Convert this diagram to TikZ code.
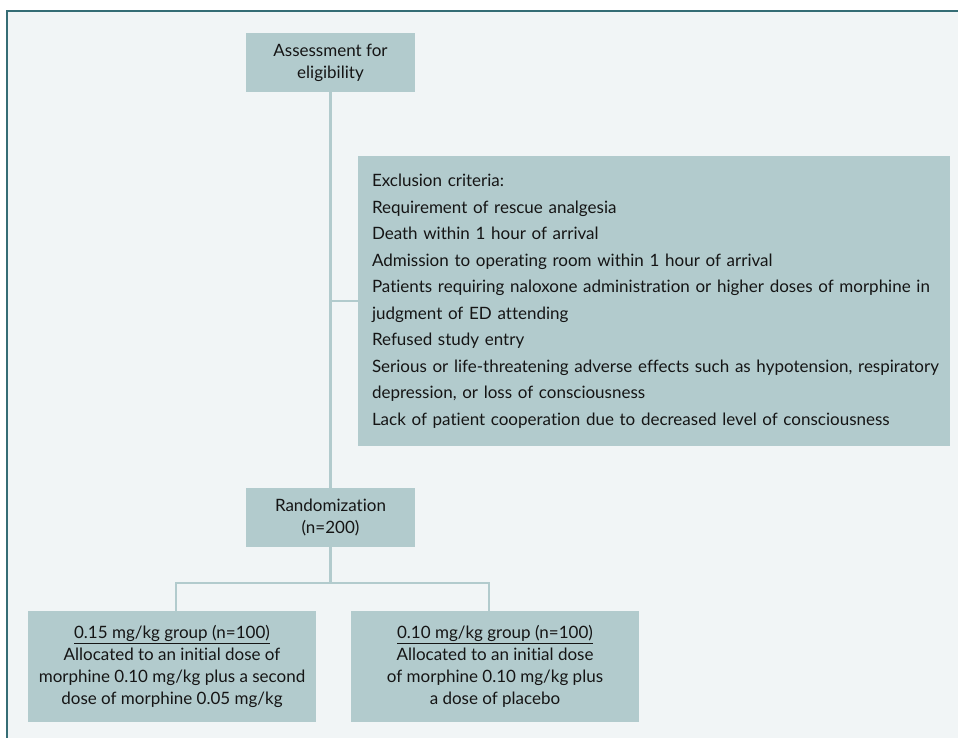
\documentclass[tikz,border=0pt]{standalone}
\usepackage{fontspec}
\setmainfont{Lato}[Ligatures=NoCommon]
\definecolor{boxfill}{HTML}{B2CBCD}
\definecolor{bgfill}{HTML}{F1F5F6}
\definecolor{framecol}{HTML}{356D75}
\definecolor{txt}{HTML}{151515}
\begin{document}
\begin{tikzpicture}[x=1pt,y=-1pt,
  every node/.style={text=txt},
  box/.style={fill=boxfill, inner sep=0pt, align=center, font=\fontsize{17}{22}\selectfont},
  link/.style={draw=boxfill, line width=2.5pt}]
\useasboundingbox (0,0) rectangle (958,737);
\clip (0,0) rectangle (958,737);
\fill[white] (0,0) rectangle (958,737);
\fill[bgfill] (7,11) rectangle (1000,800);
\draw[framecol, line width=2pt] (7,800) -- (7,11) -- (1000,11);

\node[box, minimum width=169pt, minimum height=59pt] (assess) at (330.5,62.5) {Assessment for\\eligibility};
\node[box, minimum width=592pt, minimum height=290pt, text width=564pt, align=left,
      font=\fontsize{17}{26.5}\selectfont] (excl) at (654,301)
  {\mbox{Exclusion criteria:}\\
   \mbox{Requirement of rescue analgesia}\\
   \mbox{Death within 1 hour of arrival}\\
   \mbox{Admission to operating room within 1 hour of arrival}\\
   \mbox{Patients requiring naloxone administration or higher doses of morphine in}\\
   \mbox{judgment of ED attending}\\
   \mbox{Refused study entry}\\
   \mbox{Serious or life-threatening adverse effects such as hypotension, respiratory}\\
   \mbox{depression, or loss of consciousness}\\
   \mbox{Lack of patient cooperation due to decreased level of consciousness}};
\node[box, minimum width=169pt, minimum height=59pt] (rand) at (330.5,517.5) {Randomization\\(n=200)};
\node[box, minimum width=288pt, minimum height=111pt] (g1) at (172,666.5)
  {\underline{0.15 mg/kg group (n=100)}\\Allocated to an initial dose of\\morphine 0.10 mg/kg plus a second\\dose of morphine 0.05 mg/kg};
\node[box, minimum width=288pt, minimum height=111pt] (g2) at (495,666.5)
  {\underline{0.10 mg/kg group (n=100)}\\Allocated to an initial dose\\of morphine 0.10 mg/kg plus\\a dose of placebo};

\draw[link] (assess.south) -- (rand.north);
\draw[link] (assess.south |- excl.west) -- (excl.west);
\coordinate (bar) at (330.5,583);
\coordinate (bl) at (176,583);
\coordinate (br) at (489,583);
\draw[link] (rand.south) -- (bar);
\draw[link] (g1.north -| bl) -- (bl) -- (br) -- (br |- g2.north);
\end{tikzpicture}
\end{document}
